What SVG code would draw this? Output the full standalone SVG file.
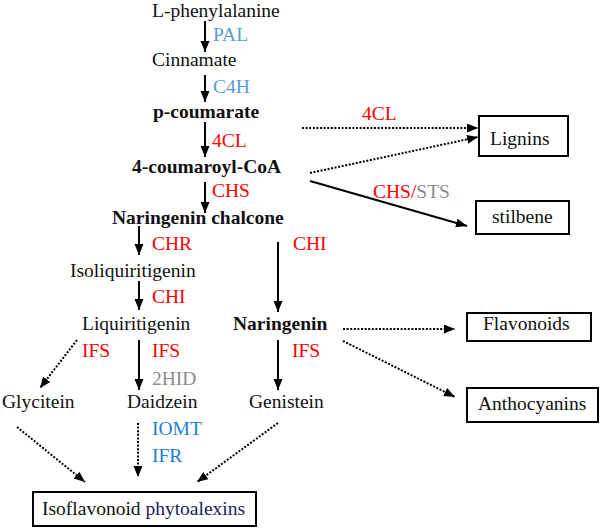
<svg xmlns="http://www.w3.org/2000/svg" width="600" height="528" viewBox="0 0 600 528">
<defs>
<marker id="ah" markerUnits="userSpaceOnUse" markerWidth="12" markerHeight="10" refX="11" refY="4.5" orient="auto">
<path d="M0,0 L11,4.5 L0,9 z" fill="#000"/>
</marker>
<style>
text{font-family:"Liberation Serif","Times New Roman",serif;font-size:19.5px;fill:#111}
.b{font-weight:bold}
.red{fill:#ff0000}
.lb{fill:#5b9bd5}
.bl{fill:#1a80d5}
.gr{fill:#8c8c8c}
.nv{fill:#1c1c5e}
.s{stroke:#000;stroke-width:2;fill:none;marker-end:url(#ah)}
.d{stroke:#000;stroke-width:2;fill:none;stroke-dasharray:2 1.6;marker-end:url(#ah)}
.box{fill:#fff;stroke:#000;stroke-width:2}
</style>
</defs>
<rect width="600" height="528" fill="#fff"/>
<g id="connectors">
<line class="s" x1="205" y1="21" x2="205" y2="52"/>
<line class="s" x1="205" y1="75" x2="205" y2="102"/>
<line class="s" x1="205" y1="122" x2="205" y2="157"/>
<line class="s" x1="205" y1="182" x2="205" y2="213"/>
<line class="s" x1="139" y1="226" x2="139" y2="255"/>
<line class="s" x1="278" y1="242" x2="278" y2="312"/>
<line class="s" x1="139" y1="281" x2="139" y2="310"/>
<line class="d" x1="77" y1="340" x2="40" y2="388"/>
<line class="s" x1="139" y1="340" x2="139" y2="390"/>
<line class="s" x1="278" y1="340" x2="278" y2="390"/>
<line class="d" x1="17" y1="427" x2="85" y2="482"/>
<line class="d" x1="138" y1="423" x2="138" y2="477"/>
<line class="d" x1="278" y1="423" x2="197" y2="482"/>
<line class="d" x1="302" y1="128" x2="478" y2="128"/>
<line class="d" x1="310" y1="173" x2="478" y2="137"/>
<line class="s" x1="310" y1="181" x2="467" y2="226"/>
<line class="d" x1="343" y1="329" x2="455" y2="329"/>
<line class="d" x1="343" y1="341" x2="455" y2="397"/>
</g>
<g id="labels">
<text class="lb" x="213" y="41">PAL</text>
<text class="lb" x="213" y="93">C4H</text>
<text class="red" x="212" y="147">4CL</text>
<text class="red" x="212" y="197">CHS</text>
<text class="red" x="362" y="120">4CL</text>
<text x="373" y="198"><tspan class="red">CHS/</tspan><tspan class="gr">STS</tspan></text>
<text class="red" x="152" y="250">CHR</text>
<text class="red" x="293" y="250">CHI</text>
<text class="red" x="152" y="303">CHI</text>
<text class="red" x="82" y="357">IFS</text>
<text class="red" x="152" y="357">IFS</text>
<text class="red" x="292" y="357">IFS</text>
<text class="gr" x="152" y="385">2HID</text>
<text class="bl" x="152" y="435">IOMT</text>
<text class="bl" x="152" y="462">IFR</text>
</g>
<g id="n-phenylalanine"><text x="152" y="16.5">L-phenylalanine</text></g>
<g id="n-cinnamate"><text x="152" y="66">Cinnamate</text></g>
<g id="n-pcoumarate"><text class="b" x="153" y="118">p-coumarate</text></g>
<g id="n-coumaroylcoa"><text class="b" x="132" y="173">4-coumaroyl-CoA</text></g>
<g id="n-chalcone"><text class="b" x="112" y="224">Naringenin chalcone</text></g>
<g id="n-isoliquiritigenin"><text x="70" y="277">Isoliquiritigenin</text></g>
<g id="n-liquiritigenin"><text x="82" y="330">Liquiritigenin</text></g>
<g id="n-naringenin"><text class="b" x="233" y="330">Naringenin</text></g>
<g id="n-glycitein"><text x="2" y="408">Glycitein</text></g>
<g id="n-daidzein"><text x="127" y="408">Daidzein</text></g>
<g id="n-genistein"><text x="249" y="408">Genistein</text></g>
<g id="n-lignins"><rect class="box" x="479" y="116" width="89" height="40"/><text x="490" y="145">Lignins</text></g>
<g id="n-stilbene"><rect class="box" x="476" y="201" width="93" height="33"/><text x="492" y="223">stilbene</text></g>
<g id="n-flavonoids"><rect class="box" x="467" y="313" width="124" height="28"/><text x="483" y="330">Flavonoids</text></g>
<g id="n-anthocyanins"><rect class="box" x="467" y="388" width="131" height="34"/><text x="478" y="410">Anthocyanins</text></g>
<g id="n-phytoalexins"><rect class="box" x="33" y="492" width="223" height="34"/><text x="42" y="515">Isoflavonoid <tspan class="nv">phytoalexins</tspan></text></g>
</svg>
